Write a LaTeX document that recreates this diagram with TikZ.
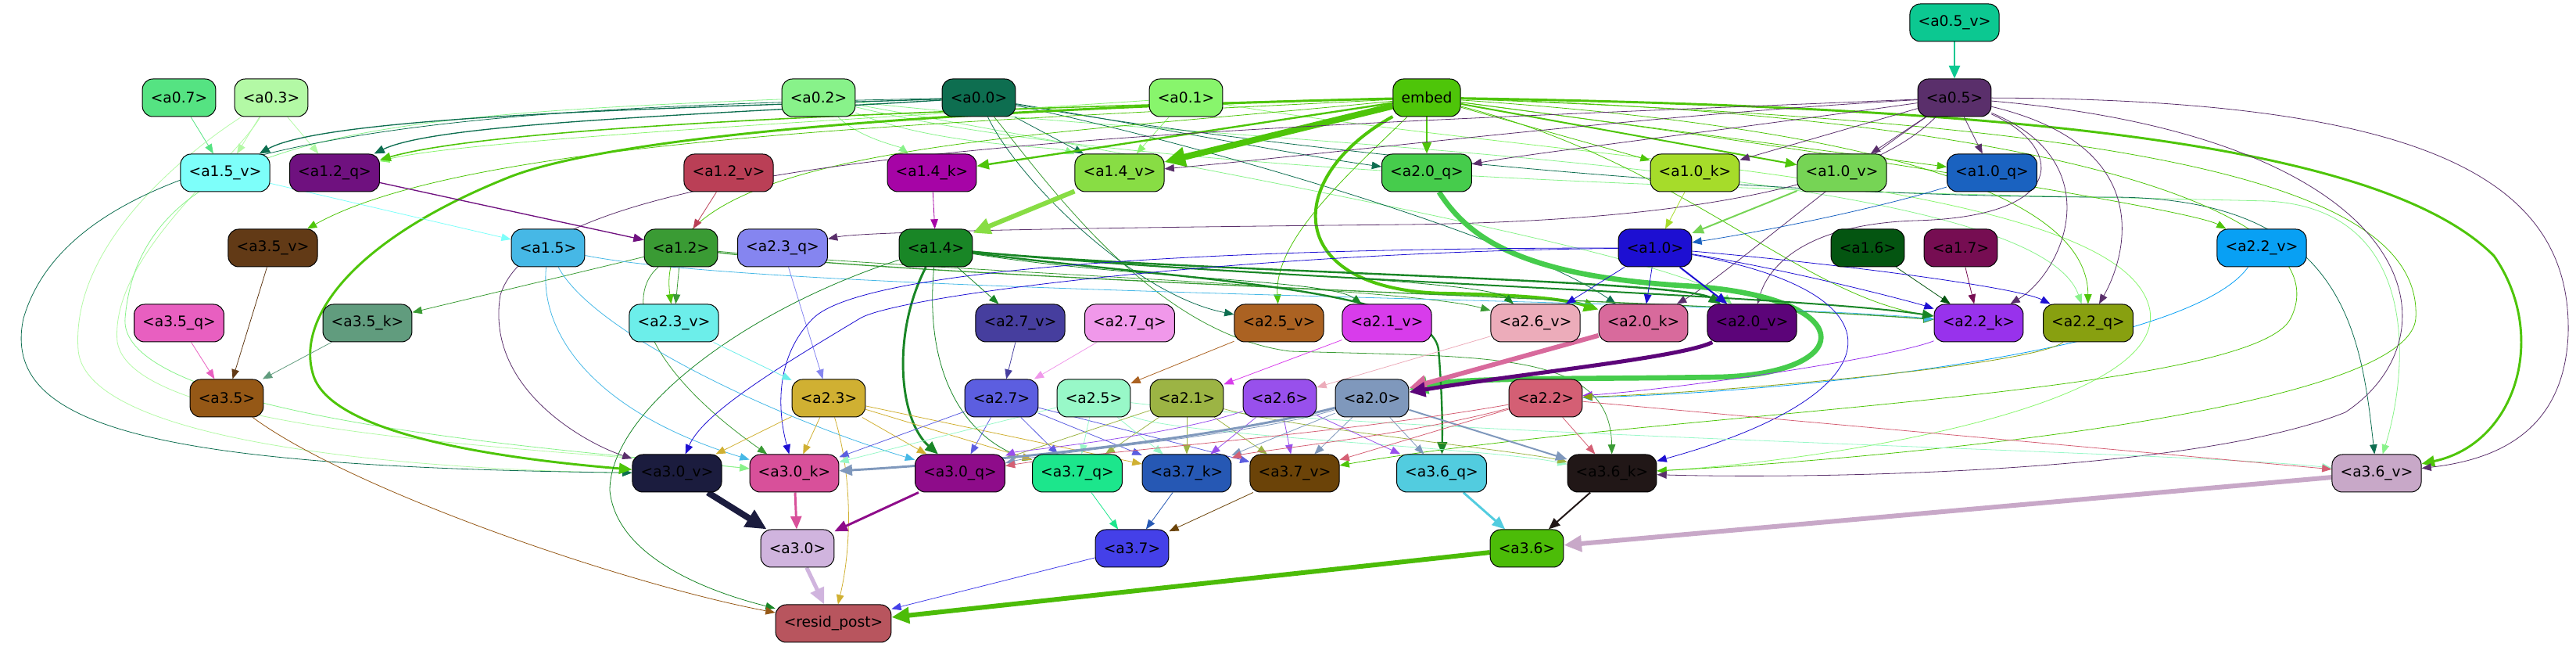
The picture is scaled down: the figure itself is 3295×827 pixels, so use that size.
\documentclass[tikz,border=0pt]{standalone}
\usepackage{fontspec}
\setmainfont{DejaVu Sans}
\usepackage{xcolor}
\usetikzlibrary{arrows,arrows.meta,backgrounds}

% head colours
\definecolor{cA05v}{HTML}{0CC891}
\definecolor{cA07}{HTML}{55E382}
\definecolor{cA03}{HTML}{B3F9A5}
\definecolor{cA02}{HTML}{88F28A}
\definecolor{cA00}{HTML}{0E6E50}
\definecolor{cA01}{HTML}{88F56C}
\definecolor{cEmb}{HTML}{4EC509}
\definecolor{cA05}{HTML}{5A2F6B}
\definecolor{cA15v}{HTML}{7DFFFA}
\definecolor{cA12q}{HTML}{6F117F}
\definecolor{cA12v}{HTML}{BA3F56}
\definecolor{cA14k}{HTML}{A604A6}
\definecolor{cA14v}{HTML}{88DD44}
\definecolor{cA20q}{HTML}{46CC4C}
\definecolor{cA10k}{HTML}{A6DC2A}
\definecolor{cA10v}{HTML}{76D455}
\definecolor{cA10q}{HTML}{1A62C0}
\definecolor{cA35v}{HTML}{623A16}
\definecolor{cA15}{HTML}{46B8E6}
\definecolor{cA12}{HTML}{3A9B34}
\definecolor{cA23q}{HTML}{8585F0}
\definecolor{cA14}{HTML}{198626}
\definecolor{cA10}{HTML}{1D0FD2}
\definecolor{cA16}{HTML}{045511}
\definecolor{cA17}{HTML}{760D52}
\definecolor{cA22v}{HTML}{08A0F4}
\definecolor{cA35q}{HTML}{E85FC0}
\definecolor{cA35k}{HTML}{619C7E}
\definecolor{cA23v}{HTML}{6CEEEA}
\definecolor{cA27v}{HTML}{463E9E}
\definecolor{cA27q}{HTML}{F098EA}
\definecolor{cA25v}{HTML}{AB6222}
\definecolor{cA21v}{HTML}{D83CEB}
\definecolor{cA26v}{HTML}{ECACBA}
\definecolor{cA20k}{HTML}{D86A9C}
\definecolor{cA20v}{HTML}{5C0479}
\definecolor{cA22k}{HTML}{9832EC}
\definecolor{cA22q}{HTML}{88A010}
\definecolor{cA35}{HTML}{955816}
\definecolor{cA23}{HTML}{D0B032}
\definecolor{cA27}{HTML}{5C5EE0}
\definecolor{cA25}{HTML}{98F8C8}
\definecolor{cA21}{HTML}{9CB444}
\definecolor{cA26}{HTML}{9850EC}
\definecolor{cA20}{HTML}{7F98BC}
\definecolor{cA22}{HTML}{D45F74}
\definecolor{cA30v}{HTML}{1B1C3E}
\definecolor{cA30k}{HTML}{D8509A}
\definecolor{cA30q}{HTML}{8E0C8A}
\definecolor{cA37q}{HTML}{1CE68C}
\definecolor{cA37k}{HTML}{2658B4}
\definecolor{cA37v}{HTML}{6B4308}
\definecolor{cA36q}{HTML}{52CCDF}
\definecolor{cA36k}{HTML}{211717}
\definecolor{cA36v}{HTML}{C8A8C8}
\definecolor{cA30}{HTML}{D0B4DE}
\definecolor{cA37}{HTML}{4440E8}
\definecolor{cA36}{HTML}{4CBC08}
\definecolor{cRes}{HTML}{B8555E}

\begin{document}
\begin{tikzpicture}[x=0.75pt, y=0.75pt, >={Triangle[length=8pt 2, width=6pt 2]}]
    \tikzset{
        hd/.style={draw, rounded corners=10pt, minimum width=54pt, minimum height=36pt, inner xsep=8pt, line width=0.75pt, font=\fontsize{14pt}{17pt}\selectfont},
        a/.style={->, draw=#1, line width=0.6pt}
    }
    \useasboundingbox (0,0) rectangle (3295,827);

    % layer 0
    \node [hd, fill=cA05v] (a05v) at (2500,798) {<a0.5\_v>};
    \node [hd, fill=cA07] (a07) at (229,702) {<a0.7>};
    \node [hd, fill=cA03] (a03) at (347,702) {<a0.3>};
    \node [hd, fill=cA02] (a02) at (1047,702) {<a0.2>};
    \node [hd, fill=cA00] (a00) at (1252,702) {<a0.0>};
    \node [hd, fill=cA01] (a01) at (1517,702) {<a0.1>};
    \node [hd, fill=cEmb] (emb) at (1825,702) {embed};
    \node [hd, fill=cA05] (a05) at (2500,702) {<a0.5>};

    % layer 1
    \node [hd, fill=cA15v] (a15v) at (288,606) {<a1.5\_v>};
    \node [hd, fill=cA12q] (a12q) at (428,606) {<a1.2\_q>};
    \node [hd, fill=cA12v] (a12v) at (932,606) {<a1.2\_v>};
    \node [hd, fill=cA14k] (a14k) at (1192,606) {<a1.4\_k>};
    \node [hd, fill=cA14v] (a14v) at (1432,606) {<a1.4\_v>};
    \node [hd, fill=cA20q] (a20q) at (1825,606) {<a2.0\_q>};
    \node [hd, fill=cA10k] (a10k) at (2168,606) {<a1.0\_k>};
    \node [hd, fill=cA10v] (a10v) at (2356,606) {<a1.0\_v>};
    \node [hd, fill=cA10q] (a10q) at (2548,606) {<a1.0\_q>};

    \node [hd, fill=cA35v] (a35v) at (349,510) {<a3.5\_v>};
    \node [hd, fill=cA15] (a15) at (701,510) {<a1.5>};
    \node [hd, fill=cA12] (a12) at (871,510) {<a1.2>};
    \node [hd, fill=cA23q] (a23q) at (1001,510) {<a2.3\_q>};
    \node [hd, fill=cA14] (a14) at (1197,510) {<a1.4>};
    \node [hd, fill=cA10] (a10) at (2117,510) {<a1.0>};
    \node [hd, fill=cA16] (a16) at (2389,510) {<a1.6>};
    \node [hd, fill=cA17] (a17) at (2508,510) {<a1.7>};
    \node [hd, fill=cA22v] (a22v) at (2893,510) {<a2.2\_v>};

    % layer 2
    \node [hd, fill=cA35q] (a35q) at (229,414) {<a3.5\_q>};
    \node [hd, fill=cA35k] (a35k) at (470,414) {<a3.5\_k>};
    \node [hd, fill=cA23v] (a23v) at (862,414) {<a2.3\_v>};
    \node [hd, fill=cA27v] (a27v) at (1305,414) {<a2.7\_v>};
    \node [hd, fill=cA27q] (a27q) at (1445,414) {<a2.7\_q>};
    \node [hd, fill=cA25v] (a25v) at (1636,414) {<a2.5\_v>};
    \node [hd, fill=cA21v] (a21v) at (1774,414) {<a2.1\_v>};
    \node [hd, fill=cA26v] (a26v) at (1964,414) {<a2.6\_v>};
    \node [hd, fill=cA20k] (a20k) at (2102,414) {<a2.0\_k>};
    \node [hd, fill=cA20v] (a20v) at (2241,414) {<a2.0\_v>};
    \node [hd, fill=cA22k] (a22k) at (2531,414) {<a2.2\_k>};
    \node [hd, fill=cA22q] (a22q) at (2671,414) {<a2.2\_q>};

    \node [hd, fill=cA35] (a35) at (290,318) {<a3.5>};
    \node [hd, fill=cA23] (a23) at (1060,318) {<a2.3>};
    \node [hd, fill=cA27] (a27) at (1281,318) {<a2.7>};
    \node [hd, fill=cA25] (a25) at (1399,318) {<a2.5>};
    \node [hd, fill=cA21] (a21) at (1518,318) {<a2.1>};
    \node [hd, fill=cA26] (a26) at (1637,318) {<a2.6>};
    \node [hd, fill=cA20] (a20) at (1755,318) {<a2.0>};
    \node [hd, fill=cA22] (a22) at (1977,318) {<a2.2>};

    % layer 3
    \node [hd, fill=cA30v] (a30v) at (866,222) {<a3.0\_v>};
    \node [hd, fill=cA30k] (a30k) at (1016,222) {<a3.0\_k>};
    \node [hd, fill=cA30q] (a30q) at (1228,222) {<a3.0\_q>};
    \node [hd, fill=cA37q] (a37q) at (1378,222) {<a3.7\_q>};
    \node [hd, fill=cA37k] (a37k) at (1518,222) {<a3.7\_k>};
    \node [hd, fill=cA37v] (a37v) at (1656,222) {<a3.7\_v>};
    \node [hd, fill=cA36q] (a36q) at (1844,222) {<a3.6\_q>};
    \node [hd, fill=cA36k] (a36k) at (2062,222) {<a3.6\_k>};
    \node [hd, fill=cA36v] (a36v) at (3040,222) {<a3.6\_v>};

    \node [hd, fill=cA30] (a30) at (1020,126) {<a3.0>};
    \node [hd, fill=cA37] (a37) at (1448,126) {<a3.7>};
    \node [hd, fill=cA36] (a36) at (1953,126) {<a3.6>};
    \node [hd, fill=cRes] (res) at (1066,30) {<resid\_post>};

    \begin{pgfonlayer}{background}
        % from layer 0
        \draw [a=cA05v, line width=2.2pt] (a05v) -- (a05);
        \draw [a=cA07] (a07) -- (a15v);
        \draw [a=cA03] (a03) -- (a15v);
        \draw [a=cA03] (a03) -- (a12q);
        \draw [a=cA03] (a03) .. controls (250,640) and (90,520) .. (100,380) .. controls (110,250) and (600,225) .. (a30v);
        \draw [a=cA03] (a03) .. controls (300,620) and (140,500) .. (150,390) .. controls (170,270) and (700,255) .. (a30k);
        \draw [a=cA02] (a02) .. controls (1100,650) and (1150,640) .. (a14k);
        \draw [a=cA02] (a02) .. controls (1200,640) and (1350,640) .. (a14v);
        \draw [a=cA02] (a02) .. controls (500,680) and (180,660) .. (160,420) .. controls (150,290) and (750,250) .. (a30k);
        \draw [a=cA02] (a02) .. controls (1500,620) and (2150,500) .. (a20v);
        \draw [a=cA02] (a02) .. controls (1600,640) and (2600,620) .. (a22q);
        \draw [a=cA02] (a02) .. controls (1500,590) and (2500,580) .. (2900,570) .. controls (3100,560) and (3080,350) .. (a36v);

        \draw [a=cA00, line width=1pt] (a00) .. controls (900,690) and (420,680) .. (a15v);
        \draw [a=cA00, line width=1pt] (a00) .. controls (900,680) and (560,670) .. (a12q);
        \draw [a=cA00] (a00) -- (a14v);
        \draw [a=cA00] (a00) .. controls (1450,670) and (1650,630) .. (a20q);
        \draw [a=cA00] (a00) .. controls (1300,600) and (1450,450) .. (a25v);
        \draw [a=cA00] (a00) .. controls (1550,640) and (1950,520) .. (a20k);
        \draw [a=cA00] (a00) .. controls (600,690) and (100,660) .. (30,420) .. controls (0,280) and (200,230) .. (a30v);
        \draw [a=cA00] (a00) .. controls (1600,640) and (2200,575) .. (2700,575) .. controls (3000,575) and (3020,400) .. (a36v);
        \draw [a=cA12] (a00) .. controls (1350,580) and (1480,400) .. (1650,378) .. controls (1900,370) and (2060,380) .. (a36k);

        \draw [a=cA01] (a01) -- (a14v);
        \draw [a=cA01] (a01) .. controls (1200,680) and (600,650) .. (a12q);
        \draw [a=cA01] (a01) .. controls (2000,620) and (2720,600) .. (2750,430) .. controls (2770,300) and (2300,235) .. (a36k);

        \draw [a=cEmb, line width=1.2pt] (emb) .. controls (1300,690) and (650,670) .. (a12q);
        \draw [a=cEmb, line width=1.8pt] (emb) -- (a14k);
        \draw [a=cEmb, line width=6pt] (emb) -- (a14v);
        \draw [a=cEmb, line width=1.5pt] (emb) -- (a20q);
        \draw [a=cEmb] (emb) -- (a10k);
        \draw [a=cEmb, line width=1.5pt] (emb) -- (a10v);
        \draw [a=cEmb] (emb) -- (a10q);
        \draw [a=cEmb] (emb) .. controls (1200,670) and (600,650) .. (a35v);
        \draw [a=cEmb] (emb) .. controls (1300,650) and (830,640) .. (a23v);
        \draw [a=cEmb, line width=2.2pt] (emb) .. controls (1300,690) and (800,660) .. (650,600) .. controls (450,520) and (380,420) .. (400,350) .. controls (420,270) and (650,240) .. (a30v);
        \draw [a=cEmb, line width=3pt] (emb) .. controls (1640,600) and (1640,455) .. (1850,452) .. controls (1950,450) and (2000,445) .. (a20k);
        \draw [a=cEmb] (emb) .. controls (1720,600) and (1630,520) .. (a25v);
        \draw [a=cEmb] (emb) .. controls (2300,640) and (2800,560) .. (a22v);
        \draw [a=cEmb] (emb) .. controls (2150,620) and (2300,450) .. (a22k);
        \draw [a=cEmb] (emb) .. controls (2300,670) and (2670,600) .. (a22q);
        \draw [a=cEmb, line width=2.2pt] (emb) .. controls (2600,690) and (3050,640) .. (3190,500) .. controls (3260,400) and (3220,260) .. (a36v);
        \draw [a=cEmb] (emb) .. controls (2600,680) and (3000,560) .. (2930,420) .. controls (2880,320) and (2100,300) .. (a37v);
        \draw [a=cEmb] (emb) .. controls (2700,670) and (3100,600) .. (3090,420) .. controls (3080,300) and (2400,240) .. (a36k);

        \draw [a=cA05] (a05) .. controls (2100,680) and (1700,630) .. (a14v);
        \draw [a=cA05] (a05) .. controls (2200,660) and (1950,630) .. (a20q);
        \draw [a=cA05] (a05) -- (a10k);
        \draw [a=cA05] (a05) -- (a10v);
        \draw [a=cA05] (a05) -- (a10q);
        \draw [a=cA05] (a05) .. controls (2400,600) and (2200,545) .. (1800,540) .. controls (1300,535) and (1100,530) .. (a23q);
        \draw [a=cA05] (a05) .. controls (1500,660) and (700,640) .. (640,450) .. controls (620,330) and (750,260) .. (a30v);
        \draw [a=cA05] (a05) .. controls (2350,600) and (2200,470) .. (a20k);
        \draw [a=cA05] (a05) .. controls (2640,640) and (2650,550) .. (2450,545) .. controls (2300,540) and (2260,480) .. (a20v);
        \draw [a=cA05] (a05) .. controls (2700,620) and (2640,480) .. (a22k);
        \draw [a=cA05] (a05) .. controls (2760,640) and (2720,500) .. (a22q);
        \draw [a=cA05] (a05) .. controls (3100,650) and (3150,400) .. (3000,300) .. controls (2800,220) and (2300,215) .. (a36k);
        \draw [a=cA05] (a05) .. controls (3100,700) and (3290,600) .. (3285,400) .. controls (3280,280) and (3200,240) .. (a36v);

        % from layer 1
        \draw [a=cA15v] (a15v) -- (a15);
        \draw [a=cA12q, line width=1pt] (a12q) -- (a12);
        \draw [a=cA12v] (a12v) -- (a12);
        \draw [a=cA14k] (a14k) -- (a14);
        \draw [a=cA14v, line width=4.5pt] (a14v) -- (a14);
        \draw [a=cA20q, line width=5pt] (a20q) .. controls (1880,520) and (1950,475) .. (2150,462) .. controls (2380,450) and (2380,350) .. (2200,345) .. controls (2000,342) and (1870,345) .. (a20);
        \draw [a=cA10k] (a10k) -- (a10);
        \draw [a=cA10v, line width=1.5pt] (a10v) -- (a10);
        \draw [a=cA10q] (a10q) .. controls (2400,560) and (2250,530) .. (a10);
        \draw [a=cA23q] (a23q) -- (a23);
        \draw [a=cA16] (a16) -- (a22k);
        \draw [a=cA17] (a17) -- (a22k);
        \draw [a=cA22v] (a22v) .. controls (2800,380) and (2300,325) .. (a22);

        \draw [a=cA12] (a12) -- (a35k);
        \draw [a=cA12] (a12) -- (a23v);
        \draw [a=cA12] (a12) .. controls (800,450) and (820,360) .. (a30k);
        \draw [a=cA12, line width=1pt] (a12) .. controls (1200,470) and (2200,440) .. (a22k);
        \draw [a=cA12] (a12) .. controls (1200,480) and (1800,460) .. (a26v);
        \draw [a=cA15] (a15) .. controls (1000,450) and (2200,445) .. (a22k);
        \draw [a=cA15] (a15) .. controls (690,400) and (760,300) .. (a30k);
        \draw [a=cA15] (a15) .. controls (760,400) and (1000,290) .. (a30q);

        \draw [a=cA14] (a14) -- (a27v);
        \draw [a=cA14] (a14) .. controls (1450,470) and (1700,470) .. (a21v);
        \draw [a=cA14] (a14) .. controls (1500,480) and (1900,470) .. (a26v);
        \draw [a=cA14, line width=1.8pt] (a14) .. controls (1500,480) and (2150,470) .. (a20v);
        \draw [a=cA14, line width=1.5pt] (a14) .. controls (1600,470) and (2300,450) .. (a22k);
        \draw [a=cA14, line width=2.2pt] (a14) .. controls (1140,400) and (1150,290) .. (a30q);
        \draw [a=cA14, line width=1.8pt] (a14) .. controls (1500,470) and (1830,460) .. (1840,380) .. controls (1845,320) and (1845,280) .. (a36q);
        \draw [a=cA14] (a14) .. controls (1180,330) and (1250,260) .. (a37q);
        \draw [a=cA14] (a14) .. controls (950,430) and (780,300) .. (780,200) .. controls (790,100) and (950,60) .. (res);

        \draw [a=cA10] (a10) -- (a26v);
        \draw [a=cA10] (a10) -- (a20k);
        \draw [a=cA10, line width=1.5pt] (a10) -- (a20v);
        \draw [a=cA10] (a10) .. controls (2300,480) and (2450,440) .. (a22k);
        \draw [a=cA10] (a10) .. controls (2350,490) and (2580,460) .. (a22q);
        \draw [a=cA10] (a10) .. controls (2450,450) and (2420,320) .. (a36k);
        \draw [a=cA10] (a10) .. controls (1600,505) and (1150,450) .. (1100,420) .. controls (1000,360) and (900,300) .. (a30v);
        \draw [a=cA10] (a10) .. controls (1500,510) and (1100,480) .. (1040,420) .. controls (990,370) and (995,300) .. (a30k);

        % from layer 2
        \draw [a=cA23v] (a23v) -- (a23);
        \draw [a=cA22k] (a22k) .. controls (2420,370) and (2150,330) .. (a22);
        \draw [a=cA22q] (a22q) .. controls (2600,360) and (2200,325) .. (a22);
        \draw [a=cA35q] (a35q) -- (a35);
        \draw [a=cA35v] (a35v) -- (a35);
        \draw [a=cA35k] (a35k) -- (a35);
        \draw [a=cA27v] (a27v) -- (a27);
        \draw [a=cA27q] (a27q) -- (a27);
        \draw [a=cA25v] (a25v) -- (a25);
        \draw [a=cA21v] (a21v) -- (a21);
        \draw [a=cA26v] (a26v) -- (a26);
        \draw [a=cA20k, line width=4.5pt] (a20k) -- (a20);
        \draw [a=cA20v, line width=3.8pt] (a20v) .. controls (2150,370) and (1950,350) .. (a20);

        \draw [a=cA23] (a23) -- (a30v);
        \draw [a=cA23] (a23) -- (a30k);
        \draw [a=cA23] (a23) -- (a30q);
        \draw [a=cA23] (a23) -- (a37q);
        \draw [a=cA23] (a23) -- (a37k);
        \draw [a=cA23] (a23) .. controls (1090,220) and (1090,130) .. (res);
        \draw [a=cA27] (a27) -- (a30k);
        \draw [a=cA27] (a27) -- (a30q);
        \draw [a=cA27] (a27) -- (a37q);
        \draw [a=cA27] (a27) -- (a37k);
        \draw [a=cA27] (a27) -- (a37v);
        \draw [a=cA25] (a25) -- (a30k);
        \draw [a=cA25] (a25) -- (a37q);
        \draw [a=cA25] (a25) -- (a37k);
        \draw [a=cA25] (a25) .. controls (1500,270) and (1900,255) .. (a36k);
        \draw [a=cA25] (a25) .. controls (1800,270) and (2800,250) .. (a36v);
        \draw [a=cA21] (a21) -- (a30q);
        \draw [a=cA21] (a21) -- (a37q);
        \draw [a=cA21] (a21) -- (a37k);
        \draw [a=cA21] (a21) -- (a37v);
        \draw [a=cA21] (a21) .. controls (1650,280) and (1950,250) .. (a36k);
        \draw [a=cA26] (a26) .. controls (1500,270) and (1300,250) .. (a30q);
        \draw [a=cA26] (a26) -- (a37k);
        \draw [a=cA26] (a26) -- (a37v);
        \draw [a=cA26] (a26) -- (a36q);
        \draw [a=cA20, line width=2.2pt] (a20) .. controls (1550,265) and (1250,235) .. (a30k);
        \draw [a=cA20] (a20) .. controls (1600,270) and (1350,250) .. (a30q);
        \draw [a=cA20] (a20) -- (a37k);
        \draw [a=cA20] (a20) -- (a37v);
        \draw [a=cA20] (a20) -- (a36q);
        \draw [a=cA20, line width=1.5pt] (a20) -- (a36k);
        \draw [a=cA22] (a22) .. controls (1700,270) and (1400,250) .. (a30q);
        \draw [a=cA22] (a22) .. controls (1800,270) and (1600,250) .. (a37k);
        \draw [a=cA22] (a22) -- (a37v);
        \draw [a=cA22] (a22) -- (a36k);
        \draw [a=cA22] (a22) -- (a36v);

        % from layer 3
        \draw [a=cA30v, line width=6pt] (a30v) -- (a30);
        \draw [a=cA30k, line width=2.2pt] (a30k) -- (a30);
        \draw [a=cA30q, line width=2.2pt] (a30q) -- (a30);
        \draw [a=cA37q] (a37q) -- (a37);
        \draw [a=cA37k] (a37k) -- (a37);
        \draw [a=cA37v] (a37v) -- (a37);
        \draw [a=cA36q, line width=2.2pt] (a36q) -- (a36);
        \draw [a=cA36k, line width=1.5pt] (a36k) -- (a36);
        \draw [a=cA36v, line width=4.5pt] (a36v) -- (a36);
        \draw [a=cA30, line width=3.8pt] (a30) -- (res);
        \draw [a=cA37] (a37) -- (res);
        \draw [a=cA36, line width=4.5pt] (a36) -- (res);
        \draw [a=cA35] (a35) .. controls (450,200) and (800,80) .. (res);
    \end{pgfonlayer}
\end{tikzpicture}
\end{document}
